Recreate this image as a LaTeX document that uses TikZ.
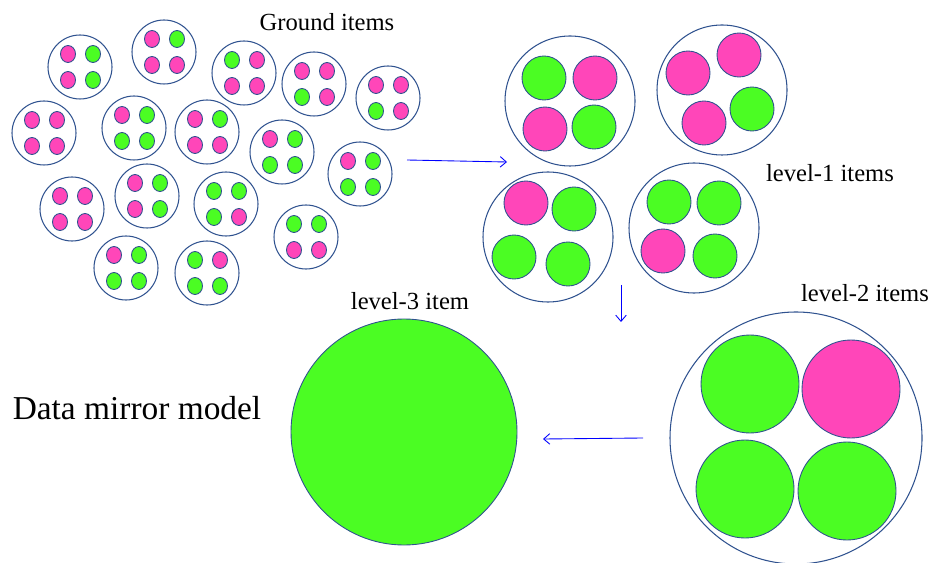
\documentclass[tikz,border=0pt]{standalone}
\usepackage{fontspec}
\setmainfont{Liberation Serif}
\usepackage{tikz}
\usetikzlibrary{arrows.meta}
\definecolor{itempink}{RGB}{255,70,185}
\definecolor{itemgreen}{RGB}{75,253,35}
\definecolor{itemline}{RGB}{47,82,143}
\tikzset{
  outer/.style={draw=itemline,line width=0.6pt},
  inner/.style={draw=itemline,line width=0.5pt},
  flow/.style={blue,line width=0.5pt,-{Straight Barb[length=3.5pt,width=6pt]}},
  caption/.style={font=\fontsize{14}{16}\selectfont}
}
\newcommand{\drawgrounditem}[5]{
  \begin{scope}[shift={#1}]
  \draw[outer] (0,0) circle (32);
  \draw[inner,fill=#2] (-12,-13) ellipse (7.5 and 8.5);
  \draw[inner,fill=#3] (13,-13) ellipse (7.5 and 8.5);
  \draw[inner,fill=#4] (-12,13) ellipse (7.5 and 8.5);
  \draw[inner,fill=#5] (13,13) ellipse (7.5 and 8.5);
  \end{scope}
}

\begin{document}
\begin{tikzpicture}[x=0.02cm,y=-0.02cm]
      \useasboundingbox (0,0) rectangle (935,563);
      % ground items
      \drawgrounditem{(80,67)}{itempink}{itemgreen}{itempink}{itemgreen};
      \drawgrounditem{(164,52)}{itempink}{itemgreen}{itempink}{itempink};
      \drawgrounditem{(244,73)}{itemgreen}{itempink}{itempink}{itempink};
      \drawgrounditem{(314,84)}{itempink}{itempink}{itemgreen}{itempink};
      \drawgrounditem{(388,98)}{itempink}{itempink}{itemgreen}{itempink};
      \drawgrounditem{(44,133)}{itempink}{itempink}{itempink}{itempink};
      \drawgrounditem{(134,128)}{itempink}{itemgreen}{itemgreen}{itemgreen};
      \drawgrounditem{(207,132)}{itempink}{itemgreen}{itempink}{itempink};
      \drawgrounditem{(282,152)}{itempink}{itemgreen}{itemgreen}{itemgreen};
      \drawgrounditem{(360,174)}{itempink}{itemgreen}{itemgreen}{itemgreen};
      \drawgrounditem{(72,209)}{itempink}{itempink}{itempink}{itempink};
      \drawgrounditem{(147,196)}{itempink}{itemgreen}{itempink}{itemgreen};
      \drawgrounditem{(226,204)}{itemgreen}{itemgreen}{itemgreen}{itempink};
      \drawgrounditem{(306,237)}{itemgreen}{itemgreen}{itempink}{itempink};
      \drawgrounditem{(126,268)}{itempink}{itemgreen}{itemgreen}{itemgreen};
      \drawgrounditem{(207,273)}{itemgreen}{itempink}{itemgreen}{itemgreen};
      \node[caption] (ground) at (327,22) {Ground items};

      % level-1 items
      \draw[outer] (570,101) circle (65);
      \draw[inner,fill=itemgreen] (544,78) circle (22);
      \draw[inner,fill=itempink] (595,78) circle (22);
      \draw[inner,fill=itempink] (545,129) circle (22);
      \draw[inner,fill=itemgreen] (594,127) circle (22);

      \draw[outer] (722,90) circle (65);
      \draw[inner,fill=itempink] (688,73) circle (22);
      \draw[inner,fill=itempink] (739,55) circle (22);
      \draw[inner,fill=itempink] (704,123) circle (22);
      \draw[inner,fill=itemgreen] (752,109) circle (22);

      \draw[outer] (548,237) circle (65);
      \draw[inner,fill=itempink] (526,203) circle (22);
      \draw[inner,fill=itemgreen] (574,209) circle (22);
      \draw[inner,fill=itemgreen] (514,257) circle (22);
      \draw[inner,fill=itemgreen] (568,264) circle (22);

      \draw[outer] (694,228) circle (65);
      \draw[inner,fill=itemgreen] (669,202) circle (22);
      \draw[inner,fill=itemgreen] (719,203) circle (22);
      \draw[inner,fill=itempink] (663,251) circle (22);
      \draw[inner,fill=itemgreen] (715,256) circle (22);
      \node[caption] (levelone) at (830,173) {level-1 items};

      % level-2 items
      \draw[outer] (796,438) circle (126);
      \draw[inner,fill=itemgreen] (750,384) circle (49);
      \draw[inner,fill=itempink] (851,389) circle (49);
      \draw[inner,fill=itemgreen] (745,489) circle (49);
      \draw[inner,fill=itemgreen] (847,491) circle (49);
      \node[caption] (leveltwo) at (865,293) {level-2 items};

      % level-3 item
      \draw[inner,fill=itemgreen] (404,432) circle (113);
      \node[caption] (levelthree) at (410,301) {level-3 item};

      \node[font=\fontsize{19}{22}\selectfont] (model) at (137,408) {Data mirror model};

      % arrows
      \coordinate (A) at (407,160);
      \coordinate (B) at (507,162);
      \draw[flow] (A) -- (B);
      \coordinate (C) at (621,285);
      \coordinate (D) at (621,322);
      \draw[flow] (C) -- (D);
      \coordinate (E) at (643,438);
      \coordinate (F) at (543,439);
      \draw[flow] (E) -- (F);
\end{tikzpicture}
\end{document}
